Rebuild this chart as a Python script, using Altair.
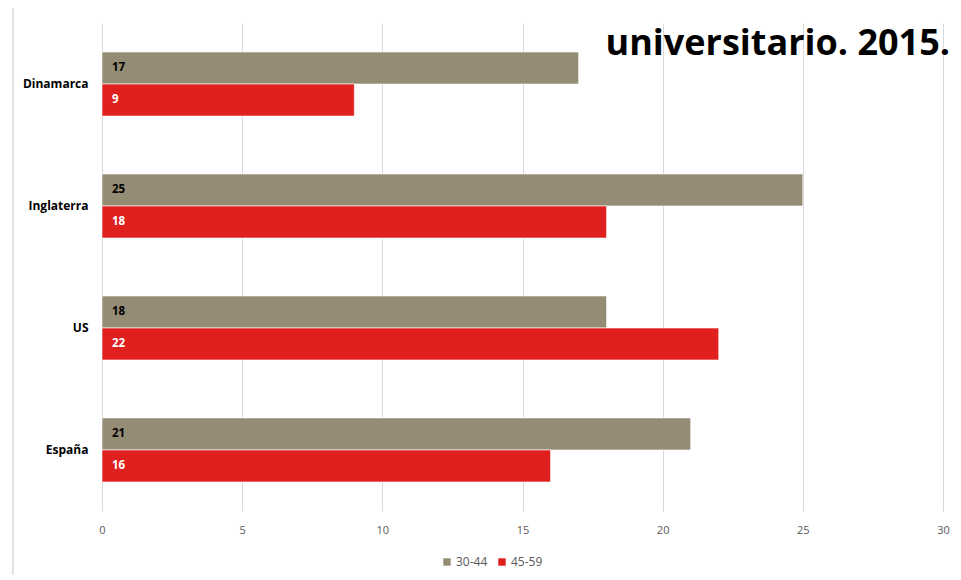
import altair as alt
import pandas as pd

paises = ["Dinamarca", "Inglaterra", "US", "España"]
series = ["30-44", "45-59"]
valores_30_44 = [17, 25, 18, 21]
valores_45_59 = [9, 18, 22, 16]
titulo = "universitario. 2015."

rows = []
for i, p in enumerate(paises):
    rows.append({"pais": p, "serie": series[0], "valor": valores_30_44[i]})
    rows.append({"pais": p, "serie": series[1], "valor": valores_45_59[i]})
df = pd.DataFrame(rows)

W, H = 841, 488
FONT = "Open Sans"

y_enc = alt.Y("pais:N", sort=paises, title=None,
              scale=alt.Scale(paddingInner=0.475, paddingOuter=0.238),
              axis=alt.Axis(labelFontWeight="bold", labelFontSize=12, labelColor="#000000",
                            labelFont=FONT, labelPadding=14, ticks=False, domain=False, grid=False))
yoff = alt.YOffset("serie:N", sort=series, scale=alt.Scale(paddingInner=0, paddingOuter=0))
x_enc = alt.X("valor:Q", title=None,
              scale=alt.Scale(domain=[0, 30], nice=False),
              axis=alt.Axis(values=[0, 5, 10, 15, 20, 25, 30], grid=True, gridColor="#d9d9d9",
                            gridWidth=1, domain=False, ticks=False, labelFontSize=11,
                            labelColor="#595959", labelFont=FONT, labelPadding=13,
                            labelFlush=False))

bars = alt.Chart(df).mark_bar(stroke="#ffffff", strokeWidth=0.6).encode(
    y=y_enc, yOffset=yoff, x=x_enc,
    color=alt.Color("serie:N", sort=series,
                    scale=alt.Scale(domain=series, range=["#948C74", "#E0201F"]),
                    legend=alt.Legend(title=None, orient="none", legendX=339, legendY=533,
                                      direction="horizontal", symbolType="square",
                                      symbolSize=55, symbolStrokeWidth=0, labelFontSize=12,
                                      labelColor="#595959", labelFont=FONT,
                                      columnPadding=8, labelOffset=3)),
)

labels = alt.Chart(df).mark_text(align="left", baseline="middle", dx=10, fontSize=11.5,
                                  fontWeight="bold", font=FONT).encode(
    y=alt.Y("pais:N", sort=paises), yOffset=alt.YOffset("serie:N", sort=series),
    x=alt.datum(0),
    text="valor:Q",
    color=alt.condition(alt.datum.serie == "30-44", alt.value("#000000"), alt.value("#ffffff")),
)

title_df = pd.DataFrame({"t": [titulo]})
title = alt.Chart(title_df).mark_text(align="right", baseline="alphabetic", fontSize=36,
                                      fontWeight="bold", font=FONT, color="#000000").encode(
    x=alt.value(848), y=alt.value(32), text="t:N")

frame = alt.Chart(title_df).mark_rule(color="#d9d9d9", strokeWidth=1.5).encode(
    x=alt.value(-89), y=alt.value(-20), y2=alt.value(560))

chart = alt.layer(frame, bars, labels, title).properties(
    width=W, height=H,
    autosize=alt.AutoSizeParams(type="none"),
    padding={"left": 94, "top": 15, "right": 10, "bottom": 64},
    background="#ffffff",
).configure_view(stroke=None)

chart.save("out.html", embed_options={"renderer": "svg", "actions": False})
